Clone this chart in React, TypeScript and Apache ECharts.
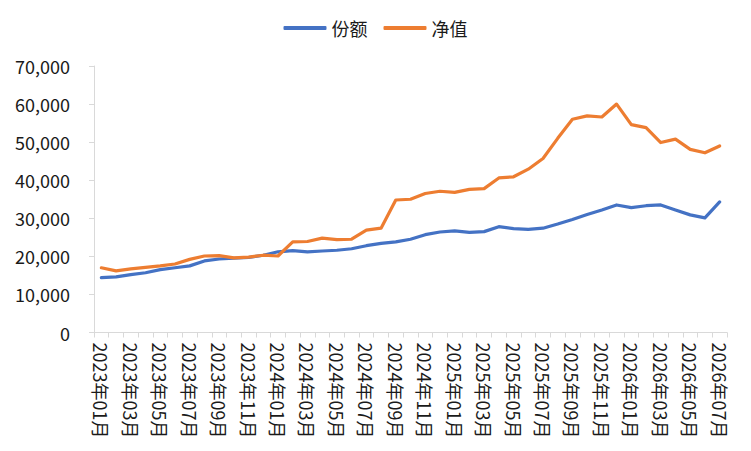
import React, { useEffect, useRef } from "react";
import * as echarts from "echarts";

const categories: string[] = [
  "2023年01月", "2023年02月", "2023年03月", "2023年04月", "2023年05月", "2023年06月",
  "2023年07月", "2023年08月", "2023年09月", "2023年10月", "2023年11月", "2023年12月",
  "2024年01月", "2024年02月", "2024年03月", "2024年04月", "2024年05月", "2024年06月",
  "2024年07月", "2024年08月", "2024年09月", "2024年10月", "2024年11月", "2024年12月",
  "2025年01月", "2025年02月", "2025年03月", "2025年04月", "2025年05月", "2025年06月",
  "2025年07月", "2025年08月", "2025年09月", "2025年10月", "2025年11月", "2025年12月",
  "2026年01月", "2026年02月", "2026年03月", "2026年04月", "2026年05月", "2026年06月",
  "2026年07月",
];

const shareValues: number[] = [
  14400, 14600, 15200, 15700, 16500, 17000, 17500, 18800, 19300, 19500, 19700, 20300,
  21200, 21500, 21200, 21400, 21600, 22000, 22800, 23400, 23800, 24500, 25700, 26400,
  26700, 26300, 26500, 27800, 27300, 27100, 27400, 28500, 29700, 31000, 32200, 33500,
  32800, 33300, 33500, 32200, 30900, 30100, 34300,
];

const navValues: number[] = [
  17000, 16200, 16700, 17100, 17500, 18000, 19200, 20100, 20200, 19600, 19800, 20300,
  20100, 23800, 23900, 24800, 24400, 24500, 26900, 27400, 34800, 35000, 36500, 37100,
  36800, 37600, 37800, 40600, 40900, 42900, 45700, 51000, 56000, 56900, 56600, 60000,
  54600, 53800, 49900, 50800, 48100, 47200, 49000,
];

const seriesNames: string[] = ["份额", "净值"];
const seriesColors: string[] = ["#4472C4", "#ED7D31"];

const FONT = "'Noto Sans CJK SC', 'Noto Sans', sans-serif";

export default function App() {
  const ref = useRef<HTMLDivElement>(null);

  useEffect(() => {
    document.body.style.margin = "0";
    if (!ref.current) return;
    const chart = echarts.init(ref.current, undefined, { renderer: "svg" });
    chart.setOption({
      animation: false,
      backgroundColor: "#ffffff",
      textStyle: { fontFamily: FONT },
      color: seriesColors,
      legend: {
        top: 14,
        left: "center",
        icon: "roundRect",
        itemWidth: 43,
        itemHeight: 4,
        itemGap: 16,
        textStyle: { fontSize: 18, color: "#1a1a1a", fontFamily: FONT },
        data: seriesNames,
      },
      grid: { left: 94, right: 24, top: 66, bottom: 118.5, containLabel: false },
      xAxis: {
        type: "category",
        data: categories,
        boundaryGap: true,
        axisLine: { show: true, lineStyle: { color: "#d9d9d9", width: 1 } },
        axisTick: { show: true, interval: 0, length: 5, lineStyle: { color: "#d9d9d9" } },
        axisLabel: {
          interval: 1,
          rotate: -90,
          margin: 10,
          fontSize: 18,
          color: "#1a1a1a",
          fontFamily: FONT,
        },
        splitLine: { show: false },
      },
      yAxis: {
        type: "value",
        min: 0,
        max: 70000,
        interval: 10000,
        axisLine: { show: true, lineStyle: { color: "#d9d9d9", width: 1 } },
        axisTick: { show: true, length: 5, lineStyle: { color: "#d9d9d9" } },
        axisLabel: {
          margin: 24,
          fontSize: 18,
          color: "#1a1a1a",
          fontFamily: FONT,
          formatter: (v: number) => v.toLocaleString("en-US"),
        },
        splitLine: { show: false },
      },
      series: [
        {
          name: seriesNames[0],
          type: "line",
          data: shareValues,
          symbol: "none",
          lineStyle: { width: 3.2, color: seriesColors[0], cap: "round", join: "round" },
          itemStyle: { color: seriesColors[0] },
          z: 2,
        },
        {
          name: seriesNames[1],
          type: "line",
          data: navValues,
          symbol: "none",
          lineStyle: { width: 3.2, color: seriesColors[1], cap: "round", join: "round" },
          itemStyle: { color: seriesColors[1] },
          z: 3,
        },
      ],
    });
    return () => chart.dispose();
  }, []);

  return <div ref={ref} style={{ width: 751, height: 451 }} />;
}
